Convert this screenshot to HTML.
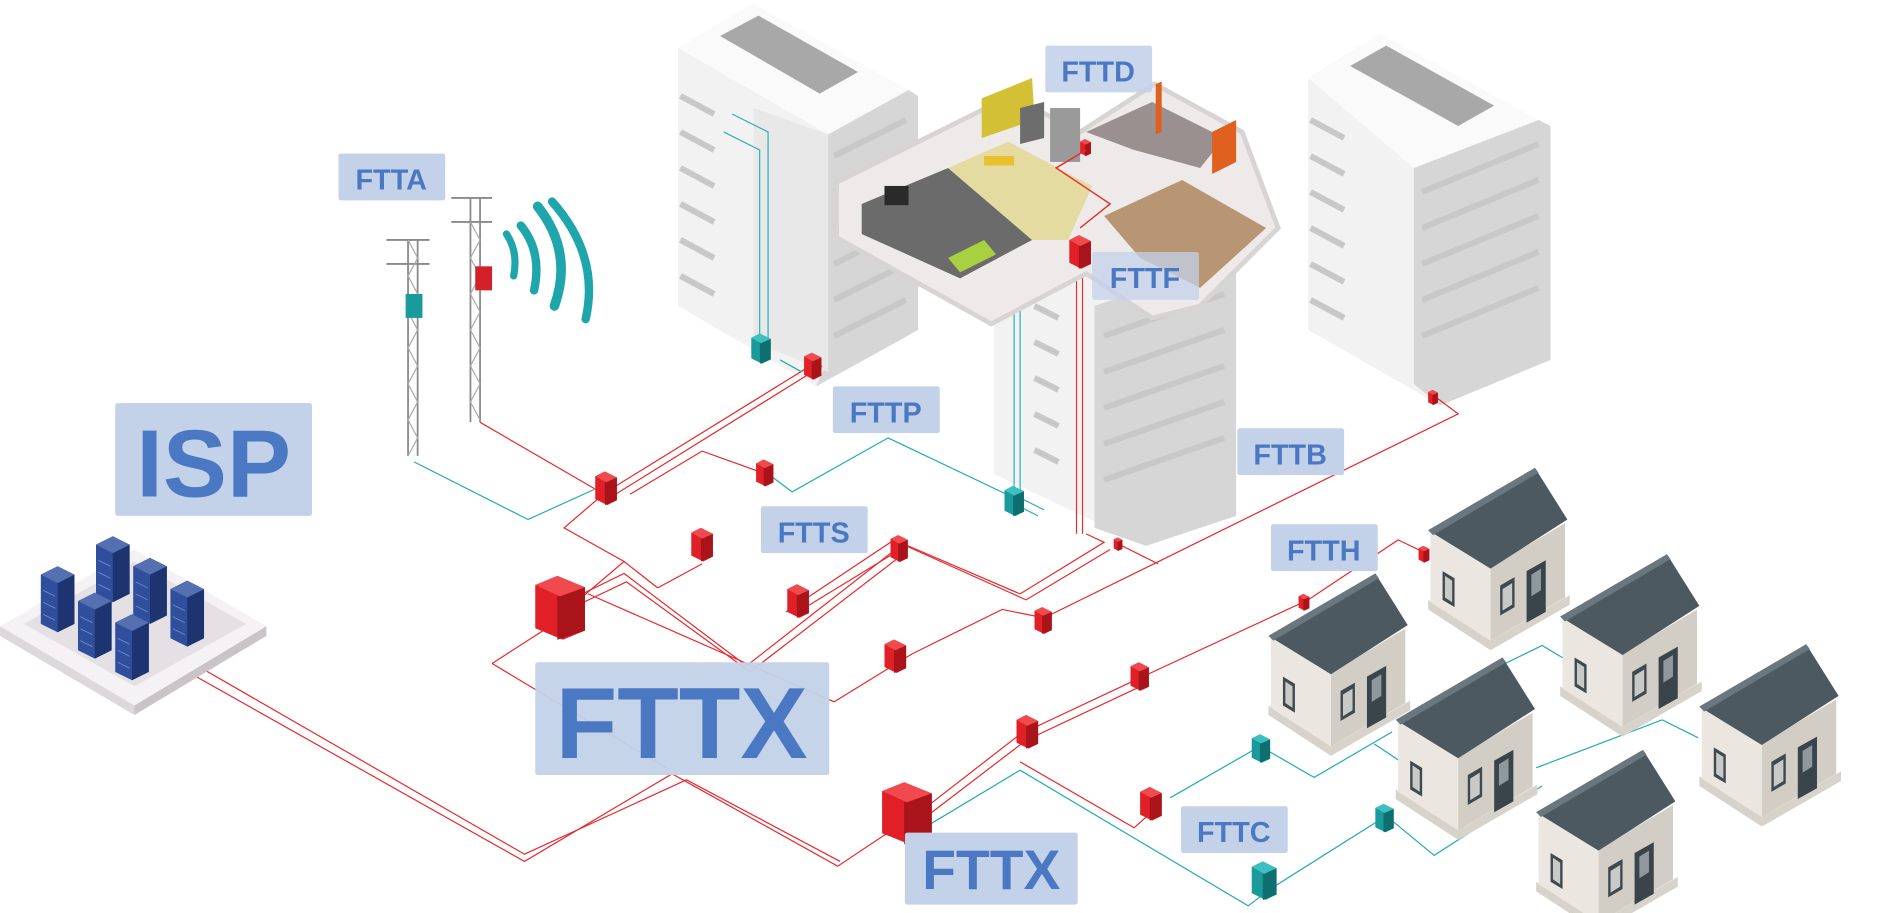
<!DOCTYPE html>
<html><head><meta charset="utf-8"><style>
html,body{margin:0;padding:0;background:#fff;overflow:hidden}
svg{display:block}
text{font-family:"Liberation Sans",sans-serif;font-weight:bold;fill:#4a78c2}
</style></head><body>
<svg width="1883" height="913" viewBox="0 0 1569 761" preserveAspectRatio="none" xmlns="http://www.w3.org/2000/svg">
<defs>
<g id="rb">
<polygon points="0,4 8,0 18,5 18,24 10,28 0,23" fill="#e01f26"/>
<polygon points="8,9 18,5 18,24 8,28" fill="#a8141a"/>
<polygon points="0,4 8,0 18,5 9,9" fill="#f04a4f"/>
</g>
<g id="tb">
<polygon points="0,4 8,0 18,5 18,24 10,28 0,23" fill="#1a9a9a"/>
<polygon points="8,9 18,5 18,24 8,28" fill="#0e6e70"/>
<polygon points="0,4 8,0 18,5 9,9" fill="#3cc0c0"/>
</g>
<g id="house">
<polygon points="0,112 52,146 118,108 118,116 52,154 0,120" fill="#d8d3ca"/>
<polygon points="2,55 30,40 52,85 52,146 2,114" fill="#ebe7e0"/>
<polygon points="52,85 114,48 114,110 52,146" fill="#d3cec5"/>
<polygon points="0,54 89,2 116,45 52,86" fill="#4d5961"/>
<polygon points="0,54 89,2 92,6 4,58" fill="#6b777f"/>
<polygon points="12,88 22,94 22,118 12,112" fill="#3f4a50"/>
<polygon points="14,92 20,96 20,114 14,110" fill="#c9c9c7"/>
<polygon points="60,100 72,93 72,118 60,125" fill="#3f4a50"/>
<polygon points="62,103 70,98 70,116 62,121" fill="#c9c9c7"/>
<polygon points="82,88 98,79 98,122 82,131" fill="#3a454b"/>
<polygon points="86,91 94,86 94,104 86,109" fill="#8f989c"/>
</g>
<g id="server">
<polygon points="0,7 14,0 28,7 28,48 14,55 0,48" fill="#2f4f9c"/>
<polygon points="14,14 28,7 28,48 14,55" fill="#1e3470"/>
<polygon points="0,7 14,0 28,7 14,14" fill="#5470b0"/>
<g stroke="#6a88c8" stroke-width="0.8"><line x1="2" y1="20" x2="12" y2="25"/><line x1="2" y1="30" x2="12" y2="35"/><line x1="2" y1="40" x2="12" y2="45"/></g>
</g>
</defs>

<!-- left building -->
<polygon points="565,40 627,3 757,75 757,280 680,322 565,255" fill="#f2f2f2"/>
<polygon points="690,112 757,75 765,80 765,275 680,322 690,300" fill="#d6d6d6"/>
<polygon points="565,40 627,3 757,75 690,112" fill="#fafafa"/>
<polygon points="600,30 632,13 715,60 683,78" fill="#a8a8a8"/>
<polygon points="628,90 690,112 690,310 628,285" fill="#e8e8e8"/>
<g stroke="#c8c8c8" stroke-width="5">
<line x1="567" y1="80" x2="595" y2="95"/><line x1="567" y1="110" x2="595" y2="125"/><line x1="567" y1="140" x2="595" y2="155"/><line x1="567" y1="170" x2="595" y2="185"/><line x1="567" y1="200" x2="595" y2="215"/><line x1="567" y1="230" x2="595" y2="245"/>
<line x1="695" y1="130" x2="755" y2="100"/><line x1="695" y1="160" x2="755" y2="130"/><line x1="695" y1="190" x2="755" y2="160"/><line x1="695" y1="220" x2="755" y2="190"/><line x1="695" y1="250" x2="755" y2="220"/><line x1="695" y1="280" x2="755" y2="250"/>
</g>
<g stroke="#2bb0b8" stroke-width="1" fill="none"><polyline points="610,95 640,110 640,290"/><polyline points="603,110 633,125 633,300"/></g>

<!-- right building -->
<polygon points="1090,65 1150,28 1282,100 1282,300 1200,338 1090,275" fill="#f2f2f2"/>
<polygon points="1178,140 1282,100 1292,105 1292,300 1200,338 1178,320" fill="#d6d6d6"/>
<polygon points="1090,65 1150,28 1282,100 1178,140" fill="#fafafa"/>
<polygon points="1125,55 1155,38 1245,88 1215,105" fill="#a8a8a8"/>
<g stroke="#c8c8c8" stroke-width="5">
<line x1="1092" y1="100" x2="1120" y2="115"/><line x1="1092" y1="130" x2="1120" y2="145"/><line x1="1092" y1="160" x2="1120" y2="175"/><line x1="1092" y1="190" x2="1120" y2="205"/><line x1="1092" y1="220" x2="1120" y2="235"/><line x1="1092" y1="250" x2="1120" y2="265"/>
<line x1="1185" y1="160" x2="1282" y2="120"/><line x1="1185" y1="190" x2="1282" y2="150"/><line x1="1185" y1="220" x2="1282" y2="180"/><line x1="1185" y1="250" x2="1282" y2="210"/><line x1="1185" y1="280" x2="1282" y2="240"/>
</g>

<!-- middle building -->
<polygon points="828,235 900,205 1020,255 1020,430 955,455 828,395" fill="#f2f2f2"/>
<polygon points="912,255 1020,220 1030,225 1030,430 955,455 912,440" fill="#d6d6d6"/>
<g stroke="#c8c8c8" stroke-width="5">
<line x1="920" y1="280" x2="1020" y2="245"/><line x1="920" y1="310" x2="1020" y2="275"/><line x1="920" y1="340" x2="1020" y2="305"/><line x1="920" y1="370" x2="1020" y2="335"/><line x1="920" y1="400" x2="1020" y2="365"/>
<line x1="862" y1="255" x2="882" y2="265"/><line x1="862" y1="285" x2="882" y2="295"/><line x1="862" y1="315" x2="882" y2="325"/><line x1="862" y1="345" x2="882" y2="355"/><line x1="862" y1="375" x2="882" y2="385"/>
</g>
<g fill="none" stroke-width="1"><polyline points="845,240 845,420 865,430" stroke="#2bb0b8"/><polyline points="850,245 850,415 870,425" stroke="#2bb0b8"/>
<line x1="897" y1="215" x2="897" y2="445" stroke="#e03030"/><line x1="902" y1="215" x2="902" y2="445" stroke="#e03030"/></g>

<!-- apartment floor -->
<polygon points="697,152 842,80 900,110 962,70 1035,110 1065,190 1000,255 960,265 905,228 826,270 697,198" fill="#eeeaea"/>
<polygon points="697,152 842,80 900,110 962,70 1035,110 1065,190 1000,255 960,265 905,228 826,270 697,198" fill="none" stroke="#d8d4d4" stroke-width="4"/>
<polygon points="718,170 790,140 860,200 800,232 718,195" fill="#6b6b6b"/>
<polygon points="790,140 840,118 910,155 890,200 860,200" fill="#e3dba0"/>
<polygon points="920,180 985,150 1055,190 1000,240 950,215" fill="#b89573"/>
<polygon points="905,110 960,85 1020,115 1000,140 945,125" fill="#9a9090"/>
<polygon points="818,82 860,65 862,100 818,115" fill="#d4c035"/>
<polygon points="850,90 870,85 870,115 850,120" fill="#6d6d6d"/>
<rect x="875" y="90" width="25" height="45" fill="#9a9a9a"/>
<polygon points="1010,110 1030,100 1030,135 1010,145" fill="#e06020"/>
<polygon points="963,70 968,68 968,110 963,112" fill="#e06020"/>
<rect x="737" y="155" width="20" height="16" fill="#2a2a2a"/>
<polygon points="790,215 820,200 830,212 800,227" fill="#a8d040"/>
<rect x="820" y="130" width="25" height="8" fill="#e8c030"/>
<use href="#rb" x="891" y="196"/>
<use href="#rb" transform="translate(900,116) scale(0.5)"/>
<g stroke="#e03030" stroke-width="1.2" fill="none"><polyline points="905,125 880,140 925,170 900,190"/></g>

<!-- towers -->
<g stroke="#8a8a8a" stroke-width="1.5" fill="none">
<polyline points="340,380 340,200"/><polyline points="348,380 348,200"/>
<line x1="322" y1="200" x2="358" y2="200"/><line x1="322" y1="220" x2="358" y2="220"/>
<polyline points="392,352 392,165"/><polyline points="400,352 400,165"/>
<line x1="376" y1="165" x2="410" y2="165"/><line x1="376" y1="185" x2="410" y2="185"/>
</g>
<g stroke="#aaa" stroke-width="1" fill="none"><path d="M340,200 L348,215 L340,230 L348,245 L340,260 L348,275 L340,290 L348,305 L340,320 L348,335 L340,350 L348,365 L340,380"/><path d="M392,185 L400,200 L392,215 L400,230 L392,245 L400,260 L392,275 L400,290 L392,305 L400,320 L392,335 L400,350"/></g>
<rect x="338" y="245" width="14" height="20" fill="#1a9a9a"/>
<rect x="396" y="222" width="14" height="20" fill="#d42028"/>
<g fill="none" stroke="#1fa5ac" stroke-linecap="round">
<path d="M422,195 Q432,210 428,230" stroke-width="6"/>
<path d="M434,188 Q452,210 445,242" stroke-width="7"/>
<path d="M448,172 Q478,210 462,255" stroke-width="8"/>
<path d="M460,168 Q500,213 488,266" stroke-width="7"/>
</g>

<!-- lines red -->
<g fill="none" stroke="#e8282c" stroke-width="1">
<polyline points="160,562 437,718 560,645 698,722 740,694"/>
<polyline points="168,557 437,712 572,650 700,718"/>
<polyline points="410,553 452,526"/>
<polyline points="410,553 555,640"/>
<polyline points="480,502 520,468 470,440 505,410"/>
<polyline points="520,468 548,490"/>
<polyline points="502,412 680,302"/>
<polyline points="508,415 685,305"/>
<polyline points="400,352 500,410"/>
<polyline points="475,500 520,478 622,555 750,455"/>
<polyline points="480,505 522,485 625,560 755,460"/>
<polyline points="548,490 585,470"/>
<polyline points="525,412 585,376 638,395"/>
<polyline points="655,510 745,450 850,495 920,452 905,445"/>
<polyline points="665,510 755,455 855,500 925,458"/>
<polyline points="695,585 760,545"/>
<polyline points="760,545 835,508 870,515"/>
<polyline points="870,515 1215,345 1195,330"/>
<polyline points="935,455 965,470"/>
<polyline points="490,495 695,585"/>
<polyline points="765,678 850,612 950,565 1090,500 1165,450 1190,462"/>
<polyline points="770,682 855,617 955,570"/>
<polyline points="850,635 945,690 965,672"/>
</g>
<!-- lines teal -->
<g fill="none" stroke="#22aab2" stroke-width="1">
<polyline points="345,385 440,433 495,408"/>
<polyline points="640,395 660,410 740,365 845,415"/>
<polyline points="770,690 850,642 1040,755 1060,740"/>
<polyline points="975,665 1050,622 1095,648 1160,610"/>
<polyline points="1060,740 1155,680"/>
<polyline points="1155,680 1195,713 1285,655"/>
<polyline points="1145,620 1175,640"/>
<polyline points="1240,560 1285,538 1305,550"/>
<polyline points="1280,640 1385,600 1415,615"/>
<polyline points="650,300 668,310"/>
</g>

<!-- boxes -->
<use href="#rb" x="496" y="393"/>
<use href="#rb" transform="translate(670,294) scale(0.8)" />
<use href="#rb" transform="translate(630,383) scale(0.8)"/>
<use href="#rb" x="576" y="440"/>
<use href="#rb" transform="translate(742,446) scale(0.8)"/>
<use href="#rb" x="656" y="487"/>
<use href="#rb" transform="translate(862,506) scale(0.8)"/>
<use href="#rb" transform="translate(928,448) scale(0.4)"/>
<use href="#rb" transform="translate(1190,325) scale(0.45)"/>
<use href="#rb" transform="translate(1182,455) scale(0.5)"/>
<use href="#rb" transform="translate(1082,495) scale(0.5)"/>
<use href="#rb" x="737" y="533"/>
<use href="#rb" transform="translate(942,552) scale(0.85)"/>
<use href="#rb" x="847" y="596"/>
<use href="#rb" transform="translate(446,480) scale(2.3,1.9)"/>
<use href="#rb" transform="translate(735,652) scale(2.3,1.85)"/>
<use href="#rb" x="950" y="656"/>
<use href="#tb" transform="translate(626,278) scale(0.9)"/>
<use href="#tb" transform="translate(837,405) scale(0.9)"/>
<use href="#tb" transform="translate(1043,612) scale(0.85)"/>
<use href="#tb" transform="translate(1146,670) scale(0.85)"/>
<use href="#tb" transform="translate(1043,718) scale(1.15)"/>

<!-- servers -->
<polygon points="0,522 112,458 222,522 112,588" fill="#f4f2f4"/>
<polygon points="0,522 112,588 112,596 0,530" fill="#dcd8dc"/>
<polygon points="112,588 222,522 222,530 112,596" fill="#c8c4c8"/>
<polygon points="20,520 112,468 205,520 112,572" fill="#e4e0e4"/>
<use href="#server" transform="translate(80,447)"/>
<use href="#server" transform="translate(34,472)"/>
<use href="#server" transform="translate(111,465)"/>
<use href="#server" transform="translate(65,494)"/>
<use href="#server" transform="translate(142,484)"/>
<use href="#server" transform="translate(96,512)"/>

<!-- houses -->
<use href="#house" transform="translate(1190,388)"/>
<use href="#house" transform="translate(1057,476)"/>
<use href="#house" transform="translate(1300,460)"/>
<use href="#house" transform="translate(1163,546)"/>
<use href="#house" transform="translate(1416,535)"/>
<use href="#house" transform="translate(1280,623)"/>

<!-- labels -->
<g fill="#c3d2e9">
<rect x="282" y="128" width="89" height="39" rx="2"/>
<rect x="871" y="38" width="89" height="39" rx="2" fill-opacity="0.9"/>
<rect x="910" y="210" width="89" height="40" rx="2" fill-opacity="0.75"/>
<rect x="694" y="322" width="89" height="39" rx="2"/>
<rect x="1031" y="357" width="89" height="39" rx="2"/>
<rect x="634" y="422" width="89" height="39" rx="2"/>
<rect x="1059" y="437" width="89" height="39" rx="2"/>
<rect x="96" y="336" width="164" height="94" rx="2"/>
<rect x="446" y="552" width="245" height="94" rx="2" fill-opacity="0.95"/>
<rect x="984" y="672" width="89" height="39" rx="2"/>
<rect x="754" y="694" width="144" height="60" rx="2"/>
</g>
<text x="326" y="158" font-size="24" text-anchor="middle">FTTA</text>
<text x="915" y="68" font-size="24" text-anchor="middle">FTTD</text>
<text x="954" y="240" font-size="24" text-anchor="middle">FTTF</text>
<text x="738" y="352" font-size="24" text-anchor="middle">FTTP</text>
<text x="1075" y="387" font-size="24" text-anchor="middle">FTTB</text>
<text x="678" y="452" font-size="24" text-anchor="middle">FTTS</text>
<text x="1103" y="467" font-size="24" text-anchor="middle">FTTH</text>
<text x="178" y="414" font-size="80" text-anchor="middle">ISP</text>
<text x="568" y="632" font-size="84" text-anchor="middle">FTTX</text>
<text x="1028" y="702" font-size="24" text-anchor="middle">FTTC</text>
<text x="826" y="741" font-size="46" text-anchor="middle">FTTX</text>
</svg>
</body></html>
